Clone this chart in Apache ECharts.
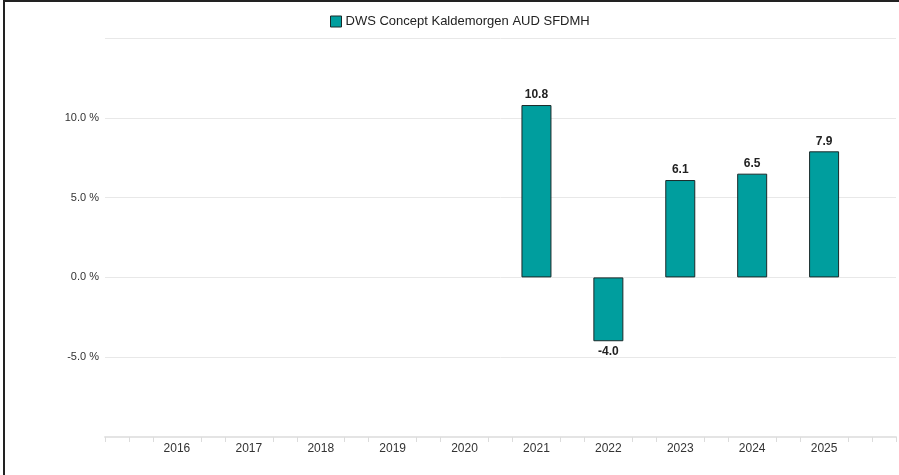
<!DOCTYPE html>
<html>
<head>
<meta charset="utf-8">
<script src="https://cdn.jsdelivr.net/npm/echarts@6/dist/echarts.min.js"></script>
<style>
  html, body { margin: 0; padding: 0; background: #fff; }
  #chartWrap { width: 899px; height: 475px; position: relative; }
  #frame { position: absolute; left: 3px; top: 0; width: 896px; height: 475px;
           border-left: 2px solid #222; border-top: 2px solid #222; pointer-events: none; }
</style>
</head>
<body>
<div id="chartWrap"></div>
<div id="frame"></div>
<script>
// 数据
var seriesName = 'DWS Concept Kaldemorgen AUD SFDMH';
var years = [2016, 2017, 2018, 2019, 2020, 2021, 2022, 2023, 2024, 2025];
var returns = [null, null, null, null, null, 10.8, -4.0, 6.1, 6.5, 7.9];
var yTicks = [-5, 0, 5, 10];

var barColor = '#009e9e';

// 年份之间每1/3年一个刻度，年份处不画
var tickValues = [years[0] - 1];
for (var i = 0; i <= years.length; i++) {
    var y0 = years[0] - 1 + i;
    tickValues.push(y0 + 1 / 3, y0 + 2 / 3);
}
tickValues.push(years[years.length - 1] + 1);

var barData = [];
for (var j = 0; j < years.length; j++) {
    if (returns[j] !== null) barData.push([years[j], returns[j]]);
}

var myChart = echarts.init(document.getElementById('chartWrap'));
myChart.setOption({
    animation: false,
    textStyle: { fontFamily: 'Liberation Sans, Arial, sans-serif' },
    legend: {
        top: 10,
        left: 325,
        icon: 'rect',
        itemWidth: 11,
        itemHeight: 11,
        itemGap: 6,
        textStyle: { fontSize: 13, color: '#222', padding: [0, 0, 0, -1] },
        itemStyle: { borderColor: '#1a2a2a', borderWidth: 1 },
        selectedMode: false,
        data: [seriesName]
    },
    grid: { left: 105, right: 3, top: 38, bottom: 38 },
    xAxis: {
        type: 'value',
        min: years[0] - 1,
        max: years[years.length - 1] + 1,
        interval: 1,
        splitLine: { show: false },
        axisLine: { show: true, onZero: false, lineStyle: { color: '#e4e4e4', width: 2 } },
        axisTick: { show: true, length: 5, customValues: tickValues, lineStyle: { color: '#dcdcdc' } },
        axisLabel: {
            customValues: years,
            color: '#333',
            fontSize: 12,
            margin: 6,
            formatter: function (v) { return String(v); }
        }
    },
    yAxis: {
        type: 'value',
        min: -10,
        max: 15,
        interval: 5,
        axisLine: { show: false },
        axisTick: { show: false },
        splitLine: { lineStyle: { color: '#e8e8e8', width: 1 } },
        axisLabel: {
            customValues: yTicks,
            color: '#333',
            fontSize: 11,
            margin: 6,
            formatter: function (v) { return v.toFixed(1) + ' %'; }
        }
    },
    series: [{
        name: seriesName,
        type: 'bar',
        barWidth: 30,
        data: barData,
        itemStyle: { color: barColor, borderColor: '#1a2a2a', borderWidth: 1 },
        label: {
            show: true,
            position: 'outside',
            fontSize: 12,
            fontWeight: 'bold',
            color: '#222',
            distance: 4,
            formatter: function (p) { return p.value[1].toFixed(1); }
        }
    }]
});
</script>
</body>
</html>
